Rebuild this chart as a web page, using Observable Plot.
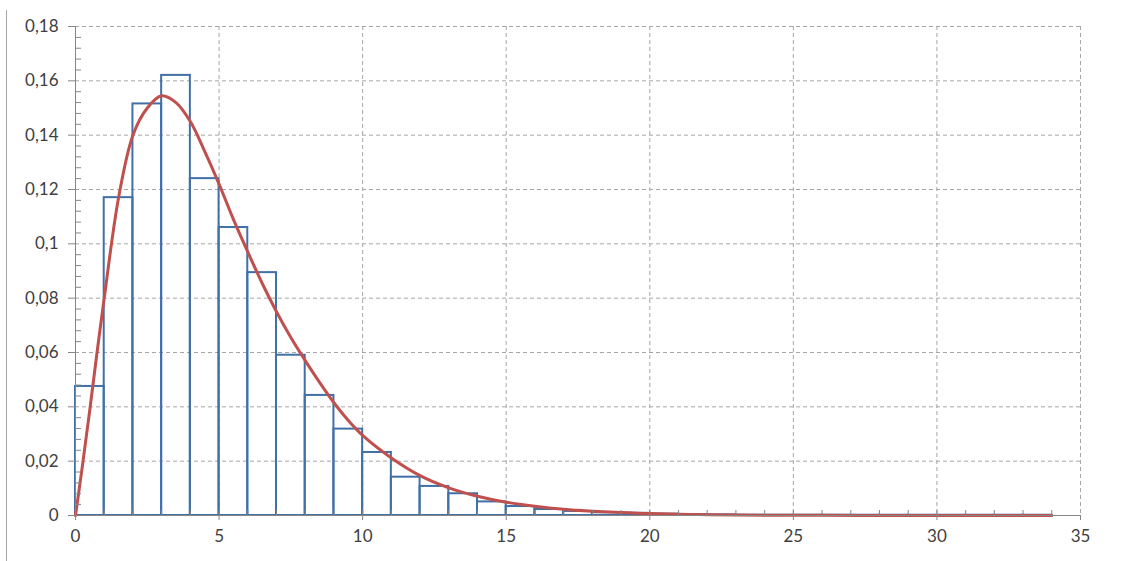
<!DOCTYPE html>
<html><head><meta charset="utf-8">
<script src="https://cdn.jsdelivr.net/npm/d3@7"></script>
<script src="https://cdn.jsdelivr.net/npm/@observablehq/plot@0.6"></script>
<style>
html,body{margin:0;padding:0;background:#fff;}
#wrap{position:relative;width:1132px;height:561px;}
#edge{position:absolute;left:6px;top:10px;width:1px;height:551px;background:#a6a6a6;}
</style></head><body><div id="wrap"></div>
<script>
// Histogram bins (left edges) and relative frequencies
const binLeft = [0,1,2,3,4,5,6,7,8,9,10,11,12,13,14,15,16,17,18,19,20,21,22,23,24,25,26,27,28,29,30,31,32,33];
const binFreq = [0.0475,0.117,0.1515,0.162,0.124,0.106,0.0894,0.059,0.0442,0.0318,0.0232,0.0141,0.0107,0.0080,0.0050,0.0033,0.0022,0.0015,0.0010,0.0008,0.0005,0.0003,0.0002,0.0001,0.0001,0.0001,0.0001,0.0001,0.0001,0.0001,0.0001,0.0001,0.0001,0.0001];
const binWidth = 1;

// Fitted density curve
const curveX = [0,0.25,0.5,0.75,1,1.5,2,2.5,3,3.5,4,4.5,5,5.5,6,6.5,7,7.5,8,8.5,9,9.5,10,11,12,13,14,15,16,17,18,19,20,21,22,23,24,25,26,28,30,34];
const curveY = [0,0.019,0.039,0.060,0.080,0.117,0.140,0.150,0.1545,0.152,0.145,0.134,0.122,0.109,0.097,0.0855,0.0750,0.0655,0.0570,0.0490,0.0415,0.0350,0.0295,0.0212,0.0147,0.0102,0.0071,0.0049,0.0034,0.0023,0.0016,0.0011,0.0007,0.0005,0.0003,0.0002,0.00013,0.0001,0.00006,0.00002,0.00001,0];

// Axis ticks
const xTicks = [0,5,10,15,20,25,30,35];
const xMinor = d3.range(0,35,1);
const yTicks = [0,0.02,0.04,0.06,0.08,0.1,0.12,0.14,0.16,0.18];
const yMinor = [0.004,0.008,0.012,0.016,0.024,0.028,0.032,0.036,0.044,0.048,0.052,0.056,0.064,0.068,0.072,0.076,0.084,0.088,0.092,0.096,0.104,0.108,0.112,0.116,0.124,0.128,0.132,0.136,0.144,0.148,0.152,0.156,0.164,0.168,0.172,0.176];

const bins = binLeft.map((x, i) => ({x1: x, x2: x + binWidth, f: binFreq[i]}));
const curve = curveX.map((x, i) => ({x, y: curveY[i]}));
const fmt = d => String(d).replace(".", ",");
const gridColor = "#a6a6a6";
const axisColor = "#868686";

const chart = Plot.plot({
  width: 1132, height: 561,
  marginLeft: 75, marginRight: 52, marginTop: 26, marginBottom: 46,
  style: {fontFamily: "Lato, 'Open Sans', sans-serif", fontSize: "17px", color: "#404040", background: "white", overflow: "visible"},
  x: {domain: [0, 35]},
  y: {domain: [0, 0.18]},
  marks: [
    Plot.gridY(yTicks, {stroke: gridColor, strokeOpacity: 1, strokeDasharray: "4,3"}),
    Plot.gridX(xTicks, {stroke: gridColor, strokeOpacity: 1, strokeDasharray: "4,3"}),
    Plot.rectY(bins, {x1: "x1", x2: "x2", y: "f", fill: "none", stroke: "#4170a8", strokeWidth: 2}),
    Plot.line(curve, {x: "x", y: "y", stroke: "#c0504d", strokeWidth: 3, curve: "catmull-rom"}),
    Plot.ruleY([0], {stroke: axisColor}),
    Plot.ruleX([0], {stroke: axisColor}),
    Plot.axisY(yTicks, {tickSize: 7, tickPadding: 10, tickFormat: fmt, stroke: axisColor, label: null}),
    Plot.axisY(yMinor, {tickSize: 6, dx: 6, tickFormat: () => "", stroke: axisColor, label: null}),
    Plot.axisX(xTicks, {tickSize: 5, tickPadding: 9, tickFormat: fmt, stroke: axisColor, label: null}),
    Plot.axisX(xMinor, {tickSize: 5, dy: -5, tickFormat: () => "", stroke: axisColor, label: null})
  ]
});
const wrap = document.getElementById("wrap");
wrap.appendChild(chart);
const edge = document.createElement("div");
edge.id = "edge";
wrap.appendChild(edge);
</script>
</body></html>
